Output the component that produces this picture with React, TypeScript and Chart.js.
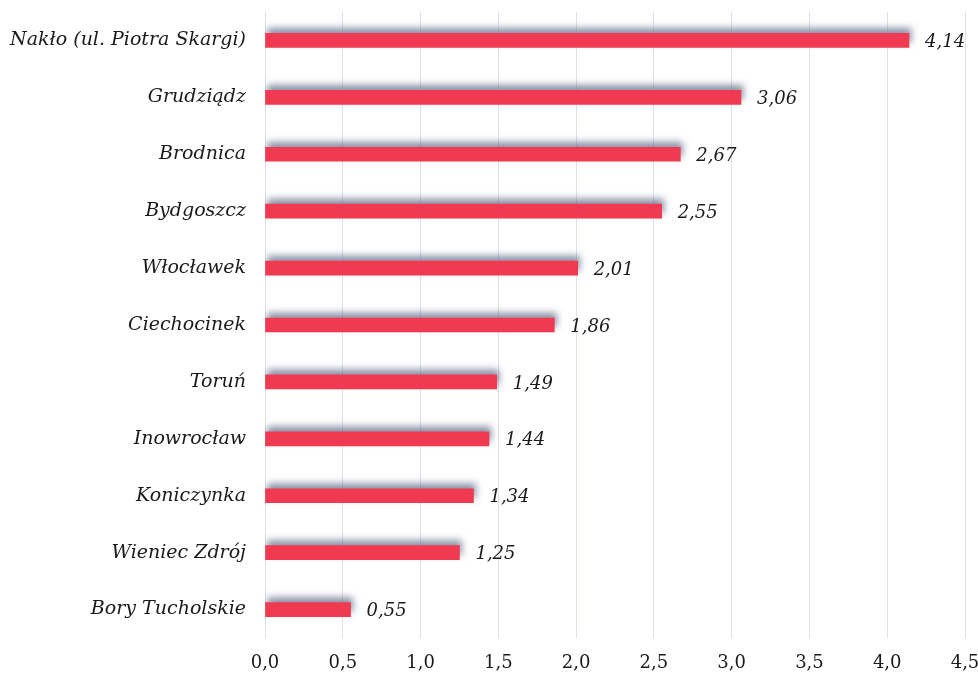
import React, { useEffect, useRef } from "react";
import { Chart, registerables } from "chart.js";

Chart.register(...registerables);

const categories = [
  "Nakło (ul. Piotra Skargi)",
  "Grudziądz",
  "Brodnica",
  "Bydgoszcz",
  "Włocławek",
  "Ciechocinek",
  "Toruń",
  "Inowrocław",
  "Koniczynka",
  "Wieniec Zdrój",
  "Bory Tucholskie",
];
const values = [4.14, 3.06, 2.67, 2.55, 2.01, 1.86, 1.49, 1.44, 1.34, 1.25, 0.55];
const xMin = 0;
const xMax = 4.5;
const xStep = 0.5;

const fmt = (v: number, d: number) => v.toFixed(d).replace(".", ",");

const FONT = "'DejaVu Serif', serif";

const shadowPlugin = {
  id: "barShadow",
  beforeDatasetsDraw(chart: any) {
    const ctx = chart.ctx;
    ctx.save();
    ctx.shadowColor = "rgba(90,100,130,0.7)";
    ctx.shadowBlur = 7;
    ctx.shadowOffsetX = 2;
    ctx.shadowOffsetY = -5;
  },
  afterDatasetsDraw(chart: any) {
    chart.ctx.restore();
  },
};

const labelPlugin = {
  id: "valueLabels",
  afterDatasetsDraw(chart: any) {
    const ctx = chart.ctx;
    const meta = chart.getDatasetMeta(0);
    ctx.save();
    ctx.font = `italic 18px ${FONT}`;
    ctx.fillStyle = "#1a1a1a";
    ctx.textAlign = "left";
    ctx.textBaseline = "middle";
    meta.data.forEach((bar: any, i: number) => {
      ctx.fillText(fmt(values[i], 2), bar.x + 16, bar.y + 2);
    });
    ctx.restore();
  },
};

export default function App() {
  const ref = useRef<HTMLCanvasElement>(null);
  useEffect(() => {
    document.body.style.margin = "0";
    const chart = new Chart(ref.current!, {
      type: "bar",
      data: {
        labels: categories,
        datasets: [
          {
            data: values,
            backgroundColor: "#f03a52",
            borderWidth: 0,
            barThickness: 14,
          },
        ],
      },
      options: {
        indexAxis: "y",
        animation: false,
        responsive: false,
        layout: { padding: { left: 0, right: 13, top: 12, bottom: 0 } },
        plugins: { legend: { display: false }, tooltip: { enabled: false } },
        scales: {
          x: {
            min: xMin,
            max: xMax,
            grid: { color: "#dfe1ea", lineWidth: 1, drawTicks: false },
            border: { display: false },
            ticks: {
              stepSize: xStep,
              padding: 15,
              color: "#1a1a1a",
              font: { family: FONT, size: 18 },
              callback: (v: any) => fmt(Number(v), 1),
            },
            afterFit: (s: any) => {
              s.height = 42;
              s.paddingLeft = 0;
              s.paddingRight = 0;
            },
          },
          y: {
            grid: { display: false, drawTicks: false },
            border: { display: false },
            ticks: {
              padding: 19,
              color: "#1a1a1a",
              font: { family: FONT, size: 19, style: "italic" },
            },
            afterFit: (s: any) => {
              s.width = 265;
              s.paddingTop = 0;
              s.paddingBottom = 0;
            },
          },
        },
      },
      plugins: [shadowPlugin, labelPlugin],
    });
    return () => chart.destroy();
  }, []);
  return <canvas ref={ref} width={978} height={680} style={{ display: "block" }} />;
}
